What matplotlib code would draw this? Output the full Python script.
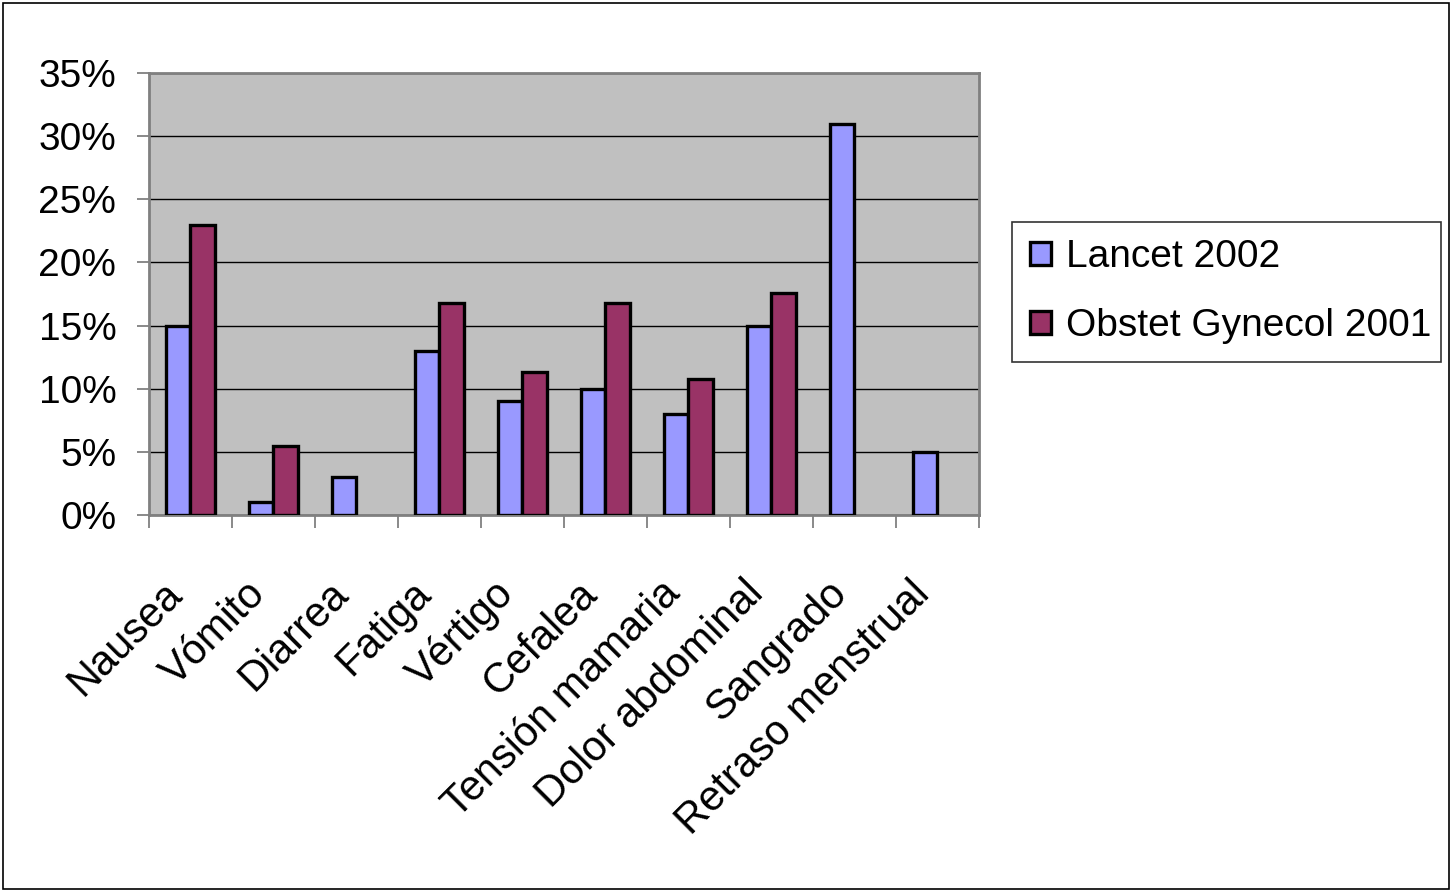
import numpy as np
import matplotlib
matplotlib.use("Agg")
import matplotlib.pyplot as plt
from matplotlib.patches import Rectangle
from matplotlib.ticker import FuncFormatter

plt.rcParams['font.family'] = ['Liberation Sans', 'DejaVu Sans']

# data (percent)
categories = ["Nausea", "Vómito", "Diarrea", "Fatiga", "Vértigo", "Cefalea",
              "Tensión mamaria", "Dolor abdominal", "Sangrado", "Retraso menstrual"]
lancet_2002 = [15, 1, 3, 13, 9, 10, 8, 15, 31, 5]
obstet_2001 = [23, 5.5, np.nan, 16.8, 11.3, 16.8, 10.8, 17.6, np.nan, np.nan]
series_names = ["Lancet 2002", "Obstet Gynecol 2001"]
y_ticks = [0, 5, 10, 15, 20, 25, 30, 35]

fig = plt.figure(figsize=(14.52, 8.91), dpi=100)
ax = fig.add_axes([0.1026, 0.422, 0.5716, 0.496])

x = np.arange(len(categories))
w = 0.29
ax.bar(x - w / 2, lancet_2002, w, color="#9999FF", edgecolor="black",
       linewidth=2.4, label=series_names[0], zorder=3)
ax.bar(x + w / 2, obstet_2001, w, color="#993366", edgecolor="black",
       linewidth=2.4, label=series_names[1], zorder=3)

ax.set_facecolor("#C0C0C0")
ax.set_xlim(-0.5, len(categories) - 0.5)
ax.set_ylim(0, 35)
ax.set_yticks(y_ticks)
ax.yaxis.set_major_formatter(FuncFormatter(lambda v, p: f"{v:.0f}%"))
ax.grid(axis="y", color="black", linewidth=1.0, zorder=1)
for s in ax.spines.values():
    s.set_color("#808080")
    s.set_linewidth(2)

ax.set_xticks(x)
ax.set_xticks(np.arange(-0.5, len(categories)), minor=True)
ax.set_xticklabels(categories, rotation=45, ha="right", va="top",
                   rotation_mode="default")
ax.tick_params(axis="x", which="major", length=0, pad=42, labelsize=30)
ax.tick_params(axis="x", which="minor", length=9, width=1.3, color="#808080",
               direction="out")
ax.tick_params(axis="y", length=9, width=1.3, color="#808080", labelsize=28,
               pad=14.5)

leg = fig.legend(loc="upper left", bbox_to_anchor=(0.697, 0.593, 0.2955, 0.158),
                 mode="expand", fontsize=28, frameon=True, fancybox=False,
                 handlelength=0.55, handleheight=0.55, handletextpad=0.4,
                 labelspacing=0.85, borderpad=0.45, borderaxespad=0)
leg.get_frame().set_edgecolor("black")
leg.get_frame().set_linewidth(1.2)

fig.patches.append(Rectangle((0.002, 0.002), 0.996, 0.995, transform=fig.transFigure,
                             fill=False, edgecolor="black", linewidth=1.2))

fig.savefig("out.png", dpi=100)
